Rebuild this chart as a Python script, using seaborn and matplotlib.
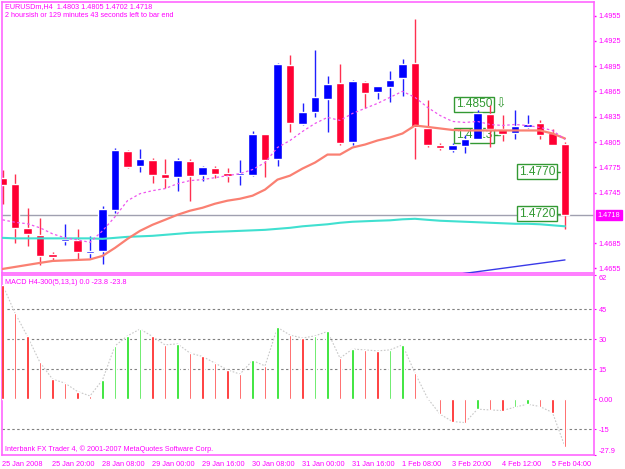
import numpy as np
import pandas as pd
import matplotlib
matplotlib.use('Agg')
import matplotlib.pyplot as plt
import seaborn as sns

# EURUSDm H4 candles (bar index 0 = 25 Jan 2008)
opens = [1.4762, 1.4755, 1.4703, 1.4695, 1.4672, 1.4688, 1.4689, 1.4673, 1.4676, 1.4724,
         1.4794, 1.4777, 1.4784, 1.4767, 1.4763, 1.4783, 1.4766, 1.4774, 1.4768, 1.4766,
         1.4766, 1.4814, 1.4785, 1.4896, 1.4826, 1.4841, 1.4856, 1.4875, 1.4805, 1.4876,
         1.4864, 1.4870, 1.4881, 1.4899, 1.4822, 1.4802, 1.4796, 1.4800, 1.4809, 1.4838,
         1.4820, 1.4816, 1.4823, 1.4827, 1.4816, 1.4803]
highs = [1.4772, 1.4767, 1.4727, 1.4715, 1.4674, 1.4708, 1.4702, 1.4694, 1.4729, 1.4798,
         1.4796, 1.4797, 1.4786, 1.4785, 1.4786, 1.4785, 1.4777, 1.4777, 1.4774, 1.4784,
         1.4818, 1.4815, 1.4899, 1.4908, 1.4851, 1.4914, 1.4883, 1.4897, 1.4878, 1.4877,
         1.4872, 1.4889, 1.4904, 1.4951, 1.4855, 1.4804, 1.4804, 1.4813, 1.4843, 1.4849,
         1.4837, 1.4843, 1.4837, 1.4831, 1.4821, 1.4805]
lows = [1.4732, 1.4685, 1.4682, 1.4659, 1.4664, 1.4683, 1.4666, 1.4667, 1.4660, 1.4721,
        1.4774, 1.4770, 1.4756, 1.4751, 1.4747, 1.4735, 1.4759, 1.4762, 1.4758, 1.4754,
        1.4765, 1.4763, 1.4776, 1.4817, 1.4825, 1.4835, 1.4817, 1.4801, 1.4801, 1.4845,
        1.4856, 1.4852, 1.4860, 1.4785, 1.4799, 1.4795, 1.4793, 1.4792, 1.4809, 1.4799,
        1.4806, 1.4808, 1.4822, 1.4808, 1.4801, 1.4702]
closes = [1.4754, 1.4703, 1.4696, 1.4670, 1.4669, 1.4690, 1.4675, 1.4676, 1.4725, 1.4795,
          1.4775, 1.4785, 1.4766, 1.4762, 1.4784, 1.4765, 1.4775, 1.4767, 1.4765, 1.4768,
          1.4814, 1.4784, 1.4897, 1.4827, 1.4841, 1.4858, 1.4874, 1.4804, 1.4877, 1.4863,
          1.4871, 1.4879, 1.4898, 1.4823, 1.4801, 1.4798, 1.4801, 1.4808, 1.4840, 1.4820,
          1.4814, 1.4824, 1.4826, 1.4813, 1.4802, 1.4718]

ma_fast = [1.47127, 1.47098, 1.47080, 1.47032, 1.46961, 1.46913, 1.46889, 1.46860, 1.46996, 1.47163,
           1.47354, 1.47437, 1.47473, 1.47497, 1.47556, 1.47592, 1.47604, 1.47627, 1.47651, 1.47675,
           1.47723, 1.47806, 1.47985, 1.48068, 1.48175, 1.48270, 1.48342, 1.48306, 1.48389, 1.48449,
           1.48508, 1.48580, 1.48651, 1.48580, 1.48461, 1.48365, 1.48294, 1.48282, 1.48294, 1.48258,
           1.48246, 1.48258, 1.48246, 1.48223, 1.48187, 1.48080]
ma_mid = [1.46544, 1.46568, 1.46592, 1.46616, 1.46639, 1.46645, 1.46651, 1.46657, 1.46699, 1.46794,
          1.46901, 1.46996, 1.47068, 1.47127, 1.47187, 1.47235, 1.47270, 1.47318, 1.47354, 1.47377,
          1.47413, 1.47485, 1.47604, 1.47651, 1.47735, 1.47806, 1.47901, 1.47901, 1.47985, 1.48020,
          1.48068, 1.48104, 1.48151, 1.48246, 1.48229, 1.48211, 1.48193, 1.48187, 1.48187, 1.48187,
          1.48187, 1.48187, 1.48187, 1.48187, 1.48151, 1.48092]
ma_slow = [1.46913, 1.46907, 1.46907, 1.46907, 1.46907, 1.46907, 1.46907, 1.46907, 1.46901, 1.46913,
           1.46925, 1.46931, 1.46937, 1.46949, 1.46961, 1.46973, 1.46979, 1.46985, 1.46990, 1.46996,
           1.47002, 1.47008, 1.47020, 1.47032, 1.47050, 1.47062, 1.47074, 1.47092, 1.47104, 1.47110,
           1.47116, 1.47121, 1.47133, 1.47139, 1.47127, 1.47116, 1.47110, 1.47104, 1.47098, 1.47092,
           1.47086, 1.47080, 1.47080, 1.47074, 1.47062, 1.47050]

macd = [57.2, 43.0, 31.3, 18.3, 10.0, 8.0, 3.8, 1.6, 9.6, 26.6,
        31.6, 35.0, 31.3, 27.1, 27.6, 23.0, 21.3, 18.0, 14.6, 12.5,
        19.3, 16.6, 35.8, 32.0, 30.5, 31.6, 33.8, 20.5, 25.0, 24.6,
        24.1, 24.6, 27.1, 13.0, 0.5, -7.5, -11.2, -11.7, -5.0, -5.4,
        -5.7, -4.0, -2.5, -3.7, -6.7, -23.8]

trend_x = [36, 45]
trend_y = [1.46472, 1.46651]

level_labels = ['1.4850', '1.4813', '1.4770', '1.4720']
level_values = [1.4850, 1.4813, 1.4770, 1.4720]
current_price = 1.4718

price_ticks = [1.4955, 1.4925, 1.4895, 1.4865, 1.4835, 1.4805, 1.4775, 1.4745, 1.4685, 1.4655]
macd_ticks = [62, 45, 30, 15, 0, -15, -27.9]
macd_tick_labels = ['62', '45', '30', '15', '0.00', '-15', '-27.9']
time_ticks = [0, 4, 8, 12, 16, 20, 24, 28, 32, 36, 40, 44]
time_labels = ['25 Jan 2008', '25 Jan 20:00', '28 Jan 08:00', '29 Jan 00:00', '29 Jan 16:00',
               '30 Jan 08:00', '31 Jan 00:00', '31 Jan 16:00', '1 Feb 08:00', '3 Feb 20:00',
               '4 Feb 12:00', '5 Feb 04:00']

sns.set_style('white')
plt.rcParams['font.family'] = ['Liberation Sans', 'DejaVu Sans']

MAG = '#FF00FF'
SPINE = '#FF66FF'
GREEN = '#339933'
W, H = 625, 469

df = pd.DataFrame({'bar': np.arange(len(opens)), 'open': opens, 'high': highs, 'low': lows,
                   'close': closes, 'ma_fast': ma_fast, 'ma_mid': ma_mid, 'ma_slow': ma_slow,
                   'macd': macd})
df['up'] = df['close'] >= df['open']

fig = plt.figure(figsize=(W / 100, H / 100), dpi=100)
fig.patch.set_facecolor('white')
ax1 = fig.add_axes([2 / W, 1 - 273 / H, 592 / W, 271 / H])
ax2 = fig.add_axes([2 / W, 1 - 455 / H, 592 / W, 180 / H], sharex=ax1)

# price panel
ax1.axhline(current_price, color='#A0A0B0', lw=1, zorder=1)
body_col = np.where(df['up'], '#0000FF', '#FF0033')
wick_col = np.where(df['up'], '#2020FF', '#FF3050')
ax1.vlines(df['bar'], df['low'], df['high'], colors=wick_col, lw=1, zorder=3)
bottoms = np.minimum(df['open'], df['close'])
heights = np.maximum(np.abs(df['close'] - df['open']), 0.00012)
ax1.bar(df['bar'], heights, bottom=bottoms, width=0.66, color=body_col, zorder=3)

sns.lineplot(data=df, x='bar', y='ma_slow', ax=ax1, color='#40E0D0', lw=1.5, zorder=4)
sns.lineplot(data=df, x='bar', y='ma_mid', ax=ax1, color='#FA8072', lw=1.6, zorder=4)
sns.lineplot(data=df, x='bar', y='ma_fast', ax=ax1, color='#EE55EE', lw=0.9,
             linestyle=(0, (2, 2)), zorder=4)
ax1.plot(trend_x, trend_y, color='#3A3AE8', lw=1, zorder=4)

# price level boxes
box_x = [37.72, 37.72, 42.76, 42.76]
for lab, val, bx in zip(level_labels, level_values, box_x):
    ax1.text(bx, val, lab, ha='center', va='center', fontsize=8.6, color=GREEN, zorder=2.5,
             bbox=dict(boxstyle='square,pad=0.12', fc='white', ec=GREEN, lw=1))
ax1.text(39.9, 1.4850, '\u21e9', ha='center', va='center', fontsize=9, color=GREEN,
         family=['DejaVu Sans'], zorder=2.5)
ax1.plot([39.32, 39.8], [1.4813, 1.4813], color=GREEN, lw=1, zorder=2.5)
ax1.plot([44.36, 45.0], [1.4770, 1.4770], color=GREEN, lw=1, zorder=2.5)
ax1.plot([44.36, 45.0], [1.4720, 1.4720], color=GREEN, lw=1, zorder=2.5)

ax1.set_ylim(1.46496, 1.49711)
ax1.yaxis.tick_right()
ax1.set_yticks(price_ticks)
ax1.set_yticklabels(['%.4f' % t for t in price_ticks])
ax1.tick_params(axis='y', colors=MAG, labelsize=5.3, length=1.5, pad=2, width=1)
ax1.tick_params(axis='x', bottom=False, labelbottom=False)
ax1.annotate('%.4f' % current_price, xy=(1, current_price),
             xycoords=('axes fraction', 'data'), xytext=(2.5, 0), textcoords='offset points',
             ha='left', va='center', fontsize=5.3, color='white',
             bbox=dict(boxstyle='square,pad=0.2', fc=MAG, ec=MAG))

# MACD panel
for lvl in [45, 30, 15, -15]:
    ax2.axhline(lvl, color='#808080', lw=0.8, linestyle=(0, (2.2, 2.2)), zorder=1)
macd_col = ['#FF1A1A'] + ['#1AE01A' if df['macd'][i] > df['macd'][i - 1] else '#FF1A1A'
                          for i in range(1, len(df))]
ax2.bar(df['bar'], df['macd'], width=0.2, color=macd_col, zorder=3)
sns.lineplot(data=df, x='bar', y='macd', ax=ax2, color='#C8C8C8', lw=0.8,
             linestyle=(0, (1.5, 1.5)), zorder=2)
ax2.set_ylim(-27.9, 62)
ax2.yaxis.tick_right()
ax2.set_yticks(macd_ticks)
ax2.set_yticklabels(macd_tick_labels)
ax2.tick_params(axis='y', colors=MAG, labelsize=5.3, length=1.5, pad=2)
for t in ax2.get_yticklabels():
    if t.get_text() == '62':
        t.set_va('top')
    elif t.get_text() == '-27.9':
        t.set_va('bottom')
ax2.set_xticks(time_ticks)
ax2.set_xticklabels(time_labels, ha='left')
ax2.tick_params(axis='x', colors=MAG, labelsize=5.3, length=2.5, pad=1.5, direction='out')
ax2.set_xlim(-0.04, 47.32)

for ax in (ax1, ax2):
    ax.set_xlabel('')
    ax.set_ylabel('')
    ax.set_facecolor('white')
    for s in ax.spines.values():
        s.set_visible(True)
        s.set_color(SPINE)
        s.set_linewidth(1.2)

fig.text(5 / W, 1 - 3 / H, 'EURUSDm,H4  1.4803 1.4805 1.4702 1.4718', ha='left', va='top',
         fontsize=5.2, color=MAG)
fig.text(5 / W, 1 - 12 / H, '2 hoursish or 129 minutes 43 seconds left to bar end', ha='left',
         va='top', fontsize=5.2, color=MAG)
fig.text(5 / W, 1 - 279 / H, 'MACD H4-300(5,13,1) 0.0 -23.8 -23.8', ha='left', va='top',
         fontsize=5.2, color=MAG)
fig.text(5 / W, 1 - 445 / H, 'Interbank FX Trader 4, \u00a9 2001-2007 MetaQuotes Software Corp.',
         ha='left', va='top', fontsize=5.2, color=MAG)

fig.savefig('out.png', dpi=100, facecolor='white')
